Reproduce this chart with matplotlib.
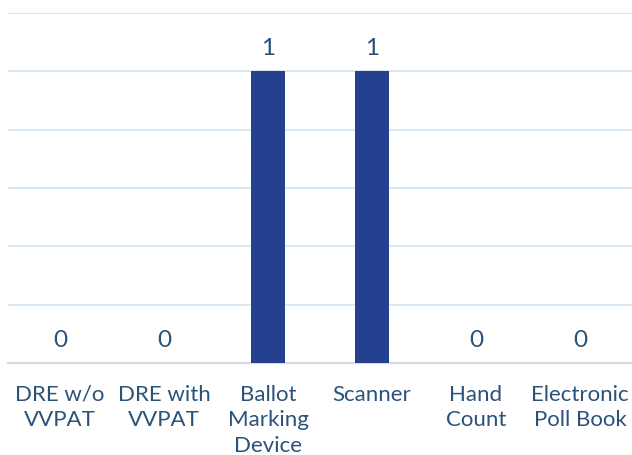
import matplotlib
matplotlib.use("Agg")
import matplotlib.pyplot as plt
from matplotlib.ticker import MultipleLocator

categories = ["DRE w/o\nVVPAT", "DRE with\nVVPAT", "Ballot\nMarking\nDevice", "Scanner", "Hand\nCount", "Electronic\nPoll Book"]
values = [0, 0, 1, 1, 0, 0]

text_color = "#2B5279"
bar_color = "#25408F"
plt.rcParams['font.family'] = ['Lato', 'DejaVu Sans']

fig = plt.figure(figsize=(6.32, 4.55), dpi=100)
ax = fig.add_axes([8/632, (455-363)/455, 624/632, 350/455])
x = list(range(len(categories)))
ax.bar(x, values, width=0.32, color=bar_color, zorder=3)
ax.set_xlim(-0.5, len(categories)-0.5)
ax.set_ylim(0, 1.2)
ax.yaxis.set_major_locator(MultipleLocator(0.2))
ax.grid(axis='y', color='#D3E6F3', linewidth=1.3, zorder=0)
ax.set_yticklabels([])
ax.tick_params(axis='y', length=0)
ax.tick_params(axis='x', length=0, pad=15.5, labelsize=16, labelcolor=text_color)
ax.set_xticks(x)
ax.set_xticklabels(categories, linespacing=1.37, va='top')
for s in ['top', 'right', 'left']:
    ax.spines[s].set_visible(False)
ax.spines['bottom'].set_color('#D9D9D9')
ax.spines['bottom'].set_linewidth(1.5)
for xi, v in zip(x, values):
    ax.annotate(str(v), (xi, v), xytext=(0, 16.5), textcoords='offset points',
                ha='center', va='center', fontsize=17.5, color=text_color)
fig.savefig("out.png", dpi=100)
